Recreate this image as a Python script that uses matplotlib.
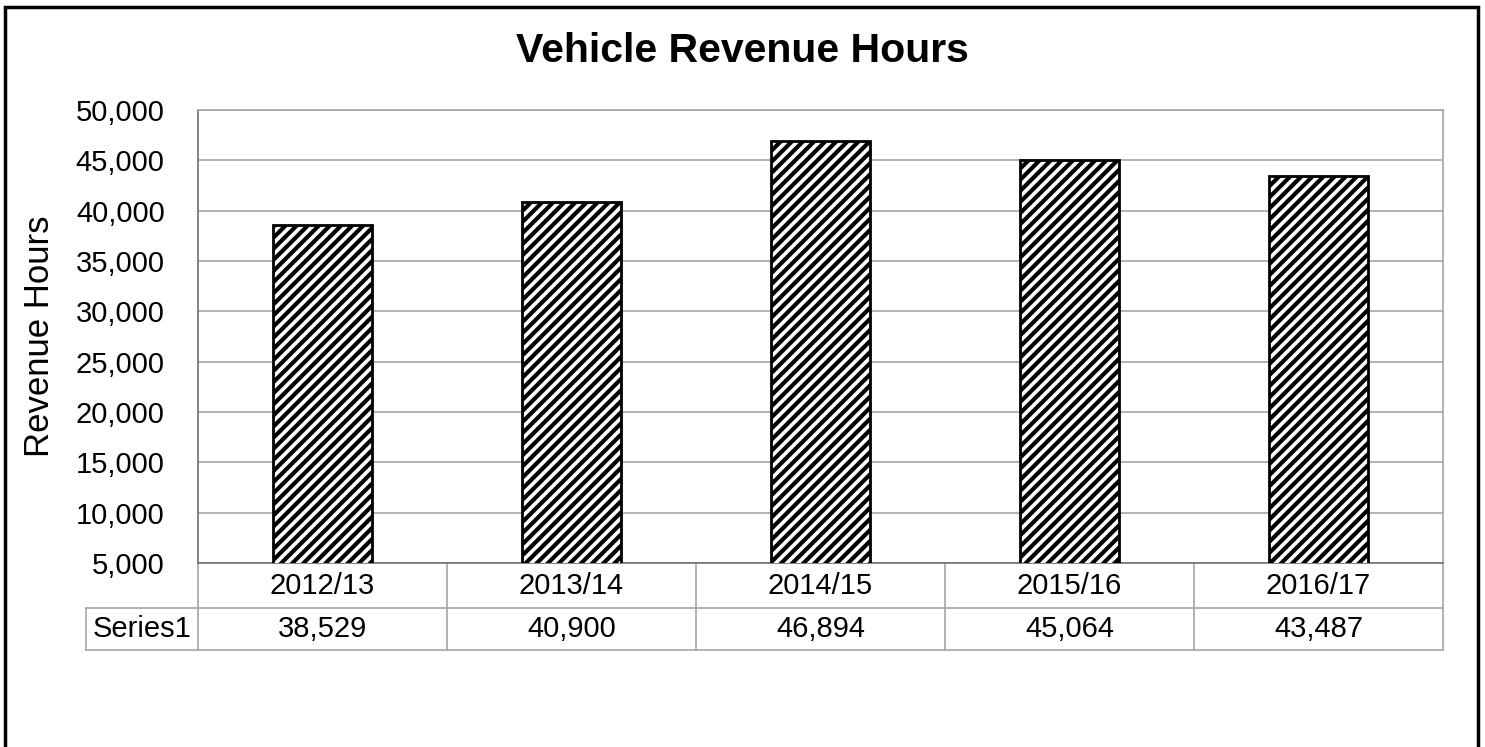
import numpy as np
import matplotlib.pyplot as plt
from matplotlib.patches import Rectangle
from matplotlib.lines import Line2D
import matplotlib.transforms as mtransforms

# dados
anos = ['2012/13', '2013/14', '2014/15', '2015/16', '2016/17']
horas = [38529, 40900, 46894, 45064, 43487]
serie_nome = 'Series1'
y_ticks = [5000, 10000, 15000, 20000, 25000, 30000, 35000, 40000, 45000, 50000]

plt.rcParams['font.family'] = ['Liberation Sans', 'DejaVu Sans']
plt.rcParams['hatch.linewidth'] = 3.0

W, H = 1485, 747
fig = plt.figure(figsize=(W / 100, H / 100), dpi=100)
ax = fig.add_axes([198 / W, 1 - 563 / H, (1443 - 198) / W, (563 - 110) / H])

cinza = '#a6a6a6'
x = np.arange(len(anos))
ax.bar(x, horas, width=0.4, bottom=0, color='white', edgecolor='black',
       hatch='///', linewidth=2.0, zorder=3)

ax.set_xlim(-0.5, len(anos) - 0.5)
ax.set_ylim(y_ticks[0], y_ticks[-1])
ax.set_yticks(y_ticks)
ax.set_yticklabels([f'{v:,}' for v in y_ticks], fontsize=21)
ax.tick_params(axis='y', length=0, pad=24)
ax.set_xticks([])
ax.grid(axis='y', color=cinza, linewidth=1.2, zorder=0)
for s in ['top', 'right']:
    ax.spines[s].set_color(cinza)
    ax.spines[s].set_linewidth(1.2)
ax.spines['left'].set_color('#707070')
ax.spines['bottom'].set_color('#707070')
ax.spines['left'].set_linewidth(1.2)
ax.spines['bottom'].set_linewidth(1.2)

ax.set_ylabel('Revenue Hours', fontsize=25, labelpad=14)
fig.text(0.5, 1 - 62 / H, 'Vehicle Revenue Hours', fontsize=29.5, fontweight='bold',
         ha='center', va='baseline')

# tabela de dados (desenhada à mão)
trans = mtransforms.blended_transform_factory(ax.transData, ax.transAxes)
h_ax = 563 - 110
y_meio = -(608 - 563) / h_ax
y_fim = -(650 - 563) / h_ax
x_esq = -(198 - 86) / (1443 - 198)

for i, (ano, v) in enumerate(zip(anos, horas)):
    ax.text(i, y_meio / 2, ano, transform=trans, ha='center', va='center',
            fontsize=21, clip_on=False)
    ax.text(i, (y_meio + y_fim) / 2, f'{v:,}', transform=trans, ha='center',
            va='center', fontsize=21, clip_on=False)

for k in range(len(anos) + 1):
    ax.add_line(Line2D([k - 0.5, k - 0.5], [0, y_fim], transform=trans,
                       color=cinza, linewidth=1.2, clip_on=False))
for yy in [y_meio, y_fim]:
    ax.add_line(Line2D([x_esq, 1], [yy, yy], transform=ax.transAxes,
                       color=cinza, linewidth=1.2, clip_on=False))
ax.add_line(Line2D([x_esq, x_esq], [y_meio, y_fim], transform=ax.transAxes,
                   color=cinza, linewidth=1.2, clip_on=False))
ax.text(x_esq / 2, (y_meio + y_fim) / 2, serie_nome, transform=ax.transAxes,
        ha='center', va='center', fontsize=21, clip_on=False)

# moldura externa
fig.patches.append(Rectangle((5 / W, -0.1), (1478 - 5) / W, 1.1 - 7 / H,
                             transform=fig.transFigure, fill=False,
                             edgecolor='black', linewidth=2.5))

fig.savefig('out.png', dpi=100, facecolor='white')
